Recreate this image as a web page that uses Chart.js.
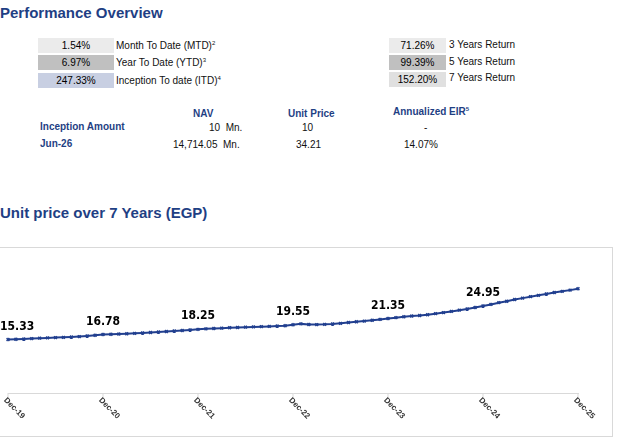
<!DOCTYPE html>
<html><head><meta charset="utf-8">
<script src="https://cdn.jsdelivr.net/npm/chart.js@4"></script>
<style>
body{margin:0;width:617px;height:439px;background:#fff;font-family:"Liberation Sans",Arial,sans-serif;position:relative;overflow:hidden}
.a{position:absolute;white-space:nowrap;font-size:10px;color:#111}
.h{font-weight:bold;color:#1f3f84}
.t{font-size:15px;font-weight:bold;color:#1f3f84}
.box{position:absolute;height:15px;line-height:15px;text-align:center;font-size:10px}
sup{font-size:6px}
#wrap{position:absolute;left:0;top:247px;width:613px;height:190px;border:1px solid #d9d9d9;border-left:none;box-sizing:border-box}
</style></head><body>
<div class="a t" style="left:0;top:4px">Performance Overview</div>
<div class="box" style="left:38px;top:38px;width:76px;background:#ebebeb">1.54%</div>
<div class="box" style="left:38px;top:55px;width:76px;background:#c0c0c0">6.97%</div>
<div class="box" style="left:38px;top:73px;width:76px;background:#c8cfe2">247.33%</div>
<div class="a" style="left:116px;top:40px">Month To Date (MTD)<sup>2</sup></div>
<div class="a" style="left:116px;top:57px">Year To Date (YTD)<sup>3</sup></div>
<div class="a" style="left:116px;top:75px">Inception To date (ITD)<sup>4</sup></div>
<div class="box" style="left:389px;top:38px;width:57px;background:#ebebeb">71.26%</div>
<div class="box" style="left:389px;top:55px;width:57px;background:#c0c0c0">99.39%</div>
<div class="box" style="left:389px;top:72px;width:57px;background:#e0e0e0">152.20%</div>
<div class="a" style="left:449px;top:39px">3 Years Return</div>
<div class="a" style="left:449px;top:56px">5 Years Return</div>
<div class="a" style="left:449px;top:72px">7 Years Return</div>
<div class="a h" style="left:193px;top:108px">NAV</div>
<div class="a h" style="left:288px;top:108px">Unit Price</div>
<div class="a h" style="left:393px;top:106px">Annualized EIR<sup>5</sup></div>
<div class="a h" style="left:40px;top:121px">Inception Amount</div>
<div class="a" style="left:209px;top:122px">10&nbsp; Mn.</div>
<div class="a" style="left:302px;top:122px">10</div>
<div class="a" style="left:424px;top:122px">-</div>
<div class="a h" style="left:40px;top:138px">Jun-26</div>
<div class="a" style="left:173px;top:139px">14,714.05&nbsp; Mn.</div>
<div class="a" style="left:296px;top:139px">34.21</div>
<div class="a" style="left:404px;top:139px">14.07%</div>
<div class="a t" style="left:0;top:204px">Unit price over 7 Years (EGP)</div>
<div id="wrap"><canvas id="c"></canvas></div>
<script>
const years = ['19','20','21','22','23','24','25'];
const monthNames = ['Jan','Feb','Mar','Apr','May','Jun','Jul','Aug','Sep','Oct','Nov','Dec'];
const unitPrice = [
  15.33,15.40,15.48,15.60,15.72,15.80,15.88,15.95,16.05,16.18,16.35,16.55,
  16.78,16.84,16.90,16.98,17.10,17.22,17.35,17.48,17.62,17.78,17.92,18.08,18.25,
  18.40,18.50,18.60,18.72,18.80,18.88,18.95,19.02,19.10,19.20,19.30,19.55,19.82,
  19.66,19.62,19.68,19.80,19.98,20.20,20.42,20.62,20.85,21.10,21.35,21.60,21.85,
  22.06,22.22,22.45,22.75,23.05,23.40,23.75,24.10,24.50,24.95,25.40,25.90,26.30,
  26.80,27.20,27.62,28.00,28.40,28.80,29.15,29.50,29.90,30.30,30.70,31.10,31.55,
  32.07
];
const labels = [];
labels.push('Dec-19');
for (let y = 20; y <= 25; y++) for (const m of monthNames) labels.push(m + '-' + y);

const decLabels = {
  id: 'decLabels',
  afterDatasetsDraw(chart) {
    const ctx = chart.ctx, xs = chart.scales.x, ys = chart.scales.y;
    ctx.save();
    labels.forEach((l, i) => {
      if (!l.startsWith('Dec')) return;
      const x = xs.getPixelForValue(i);
      // tick mark
      ctx.strokeStyle = '#d9d9d9';
      ctx.beginPath(); ctx.moveTo(x, ys.bottom); ctx.lineTo(x, ys.bottom + 4); ctx.stroke();
      // rotated axis label
      ctx.save();
      ctx.translate(x - 3, ys.bottom + 6);
      ctx.rotate(Math.PI / 4);
      ctx.fillStyle = '#333';
      ctx.font = 'bold 8px "Liberation Sans", Arial';
      ctx.textAlign = 'left'; ctx.textBaseline = 'middle';
      ctx.fillText(l, 0, 0);
      ctx.restore();
      // value label (last point has none)
      if (i === labels.length - 1) return;
      const y = ys.getPixelForValue(unitPrice[i]);
      ctx.fillStyle = '#000';
      ctx.font = 'bold 12px "Liberation Sans Narrow", "DejaVu Sans Condensed", Arial';
      ctx.textAlign = 'center'; ctx.textBaseline = 'bottom';
      const w = ctx.measureText(unitPrice[i].toFixed(2)).width;
      ctx.fillText(unitPrice[i].toFixed(2), Math.max(x, w / 2), y - 7);
    });
    ctx.restore();
  }
};

new Chart(document.getElementById('c'), {
  type: 'line',
  data: {
    labels: labels,
    datasets: [{
      data: unitPrice,
      borderColor: '#213f8f',
      backgroundColor: '#213f8f',
      borderWidth: 2,
      pointRadius: 2,
      pointStyle: 'crossRot',
      pointBorderWidth: 1.5,
      tension: 0
    }]
  },
  options: {
    responsive: true,
    maintainAspectRatio: false,
    animation: false,
    layout: { padding: { left: 8, right: 34, top: 0, bottom: 35 } },
    plugins: { legend: { display: false }, tooltip: { enabled: false } },
    scales: {
      x: { ticks: { display: false }, grid: { display: false }, border: { color: '#d9d9d9' } },
      y: { display: false, min: 0, max: 40 }
    }
  },
  plugins: [decLabels]
});
</script>
</body></html>
